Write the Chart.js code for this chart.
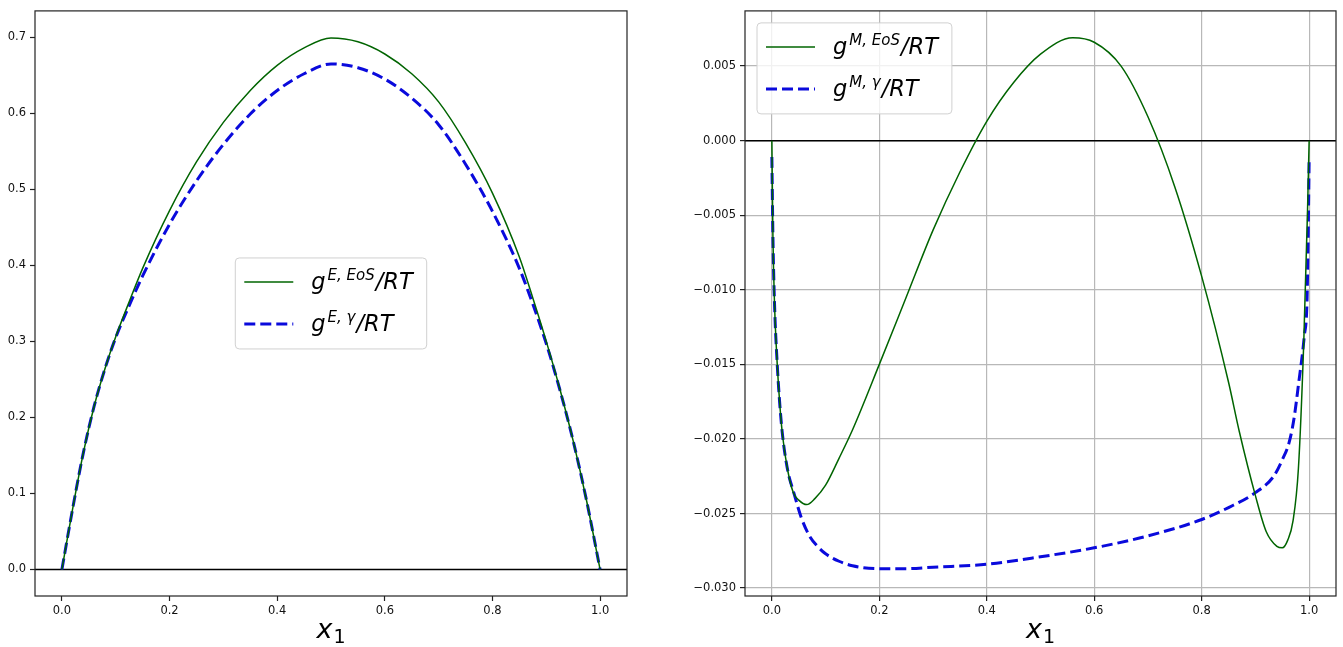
<!DOCTYPE html>
<html>
<head>
<meta charset="utf-8">
<script src="https://cdn.jsdelivr.net/npm/chart.js@4.4.1/dist/chart.umd.min.js"></script>
<style>
  html, body { margin: 0; padding: 0; background: #fff; }
  #wrap { position: relative; width: 1343px; height: 647px; }
  .box { position: absolute; top: 0; width: 671px; height: 647px; }
  #leftBox { left: 0; }
  #rightBox { left: 672px; }
</style>
</head>
<body>
<div id="wrap">
  <div class="box" id="leftBox"><canvas id="excessChart" width="671" height="647"></canvas></div>
  <div class="box" id="rightBox"><canvas id="mixingChart" width="671" height="647"></canvas></div>
</div>
<script>
// excess gibbs energy, left panel
let xExcess = [0, 0.02, 0.04, 0.06, 0.08, 0.10, 0.125, 0.15, 0.20, 0.25, 0.30, 0.35, 0.40, 0.45, 0.50,
               0.55, 0.60, 0.65, 0.70, 0.75, 0.80, 0.85, 0.875, 0.90, 0.925, 0.95, 0.975, 1.0];
let gExcessEos = [0, 0.080, 0.154, 0.215, 0.264, 0.306, 0.352, 0.396, 0.472, 0.536, 0.588, 0.630, 0.663, 0.686, 0.699,
                  0.694, 0.678, 0.652, 0.615, 0.561, 0.495, 0.411, 0.357, 0.300, 0.238, 0.169, 0.090, 0];
let gExcessGamma = [0, 0.080, 0.154, 0.215, 0.264, 0.305, 0.347, 0.386, 0.454, 0.511, 0.559, 0.599, 0.630, 0.652, 0.665,
                    0.660, 0.645, 0.620, 0.585, 0.533, 0.471, 0.396, 0.349, 0.297, 0.237, 0.169, 0.090, 0];

// gibbs energy of mixing, right panel
let xMixEos = [0, 0.002, 0.005, 0.01, 0.015, 0.02, 0.03, 0.04, 0.05, 0.065, 0.08, 0.10, 0.125, 0.15, 0.20, 0.25,
               0.30, 0.35, 0.40, 0.45, 0.50, 0.56, 0.60, 0.65, 0.70, 0.75, 0.80, 0.85, 0.87, 0.90, 0.92, 0.94,
               0.95, 0.96, 0.97, 0.98, 0.99, 0.997, 1.0];
let gMixEos = [0, -0.0065, -0.0110, -0.0150, -0.0178, -0.0198, -0.0222, -0.0236, -0.0241, -0.0244, -0.0240, -0.0231,
               -0.0213, -0.0194, -0.0150, -0.0105, -0.0060, -0.0021, 0.0013, 0.0039, 0.0058, 0.0069, 0.0066, 0.0050,
               0.0016, -0.0031, -0.0091, -0.0162, -0.0195, -0.0238, -0.0262, -0.0272, -0.0273, -0.0268, -0.0255,
               -0.0220, -0.0135, -0.0047, 0];
let xMixGamma = [0, 0.002, 0.005, 0.01, 0.015, 0.02, 0.03, 0.04, 0.055, 0.07, 0.085, 0.10, 0.125, 0.15, 0.20, 0.25,
                 0.30, 0.40, 0.50, 0.60, 0.70, 0.80, 0.85, 0.90, 0.934, 0.95, 0.963, 0.972, 0.98, 0.991, 0.996,
                 0.998, 1.0];
let gMixGamma = [-0.0011, -0.0065, -0.0110, -0.0150, -0.0178, -0.0198, -0.0222, -0.0235, -0.0253, -0.0265, -0.0272,
                 -0.0277, -0.0282, -0.0285, -0.0287, -0.0287, -0.0286, -0.0284, -0.0279, -0.0273, -0.0265, -0.0254,
                 -0.0246, -0.0236, -0.0225, -0.0214, -0.0202, -0.0186, -0.0164, -0.0131, -0.0108, -0.0069, -0.0012];

let xTicksStep = 0.2;
let leftYStep = 0.1;
let rightYStep = 0.005;

const FONT = '"DejaVu Sans", "Liberation Sans", sans-serif';
const GREEN = '#006400';
const BLUE = '#0a0adc';
const BLUE_DASH = [11, 5];

function toPoints(xs, ys) {
    return xs.map((x, i) => ({ x: x, y: ys[i] }));
}

// draws g^{sup}/RT with a raised superscript
function drawMathLabel(ctx, x, base, sup) {
    ctx.fillStyle = '#000';
    ctx.textAlign = 'left';
    ctx.textBaseline = 'alphabetic';
    ctx.font = 'italic 22.5px ' + FONT;
    ctx.fillText('g', x, base);
    x += ctx.measureText('g').width + 2;
    ctx.font = 'italic 15px ' + FONT;
    ctx.fillText(sup, x, base - 9);
    x += ctx.measureText(sup).width + 1;
    ctx.font = 'italic 22.5px ' + FONT;
    ctx.fillText('/RT', x, base);
}

function labelWidth(ctx, sup) {
    ctx.font = 'italic 22.5px ' + FONT;
    let w = ctx.measureText('g').width + 2 + ctx.measureText('/RT').width + 1;
    ctx.font = 'italic 15px ' + FONT;
    return w + ctx.measureText(sup).width;
}

function roundRect(ctx, x, y, w, h, r) {
    ctx.beginPath();
    ctx.moveTo(x + r, y);
    ctx.lineTo(x + w - r, y);
    ctx.quadraticCurveTo(x + w, y, x + w, y + r);
    ctx.lineTo(x + w, y + h - r);
    ctx.quadraticCurveTo(x + w, y + h, x + w - r, y + h);
    ctx.lineTo(x + r, y + h);
    ctx.quadraticCurveTo(x, y + h, x, y + h - r);
    ctx.lineTo(x, y + r);
    ctx.quadraticCurveTo(x, y, x + r, y);
    ctx.closePath();
}

// frame, zero line, legend and x label for one panel
function panelDecor(legendSups, legendPlace) {
    return {
        id: 'panelDecor',
        beforeDatasetsDraw(chart) {
            let ctx = chart.ctx;
            let a = chart.chartArea;
            let y0 = chart.scales.y.getPixelForValue(0);
            ctx.save();
            ctx.strokeStyle = '#000';
            ctx.lineWidth = 1.5;
            ctx.beginPath();
            ctx.moveTo(a.left, y0);
            ctx.lineTo(a.right, y0);
            ctx.stroke();
            ctx.restore();
        },
        afterDatasetsDraw(chart) {
            let ctx = chart.ctx;
            let a = chart.chartArea;
            ctx.save();
            ctx.strokeStyle = '#222';
            ctx.lineWidth = 1.2;
            ctx.strokeRect(a.left, a.top, a.right - a.left, a.bottom - a.top);
            ctx.restore();
        },
        afterDraw(chart) {
            let ctx = chart.ctx;
            let a = chart.chartArea;
            ctx.save();

            // legend box
            let textW = Math.max(labelWidth(ctx, legendSups[0]), labelWidth(ctx, legendSups[1]));
            let w = 9 + 49 + 18 + textW + 14;
            let h = 91;
            let bx, by;
            if (legendPlace === 'center') {
                bx = (a.left + a.right) / 2 - w / 2;
                by = (a.top + a.bottom) / 2 - h / 2;
            } else {
                bx = a.left + 12;
                by = a.top + 12;
            }
            roundRect(ctx, bx, by, w, h, 4);
            ctx.fillStyle = 'rgba(255,255,255,0.8)';
            ctx.fill();
            ctx.strokeStyle = '#d0d0d0';
            ctx.lineWidth = 1;
            ctx.stroke();

            let rows = [by + 24, by + 66];
            let styles = [
                { color: GREEN, width: 1.5, dash: [] },
                { color: BLUE, width: 3, dash: BLUE_DASH }
            ];
            for (let i = 0; i < 2; i++) {
                ctx.strokeStyle = styles[i].color;
                ctx.lineWidth = styles[i].width;
                ctx.setLineDash(styles[i].dash);
                ctx.beginPath();
                ctx.moveTo(bx + 9, rows[i]);
                ctx.lineTo(bx + 58, rows[i]);
                ctx.stroke();
                ctx.setLineDash([]);
                drawMathLabel(ctx, bx + 76, rows[i] + 7, legendSups[i]);
            }

            // x axis label: x with subscript 1
            ctx.fillStyle = '#000';
            ctx.textBaseline = 'alphabetic';
            ctx.textAlign = 'left';
            ctx.font = 'italic 27px ' + FONT;
            let wx = ctx.measureText('x').width;
            ctx.font = '19px ' + FONT;
            let w1 = ctx.measureText('1').width;
            let lx = (a.left + a.right) / 2 - (wx + 1 + w1) / 2;
            let base = a.bottom + 42;
            ctx.font = 'italic 27px ' + FONT;
            ctx.fillText('x', lx, base);
            ctx.font = '19px ' + FONT;
            ctx.fillText('1', lx + wx + 1, base + 5);
            ctx.restore();
        }
    };
}

function makeChart(canvasId, datasets, opts) {
    let ctx = document.getElementById(canvasId).getContext('2d');
    let tickFont = { family: FONT, size: 11.5 };
    let gridX = opts.grid
        ? { color: '#b8b8b8', lineWidth: 1.2, tickLength: 5, tickColor: '#222', tickWidth: 1.2 }
        : { drawOnChartArea: false, tickLength: 5, tickColor: '#222', tickWidth: 1.2 };
    return new Chart(ctx, {
        type: 'line',
        data: { datasets: datasets },
        options: {
            responsive: false,
            animation: false,
            devicePixelRatio: 1,
            layout: { padding: { left: 0, top: 7, right: opts.padRight, bottom: 0 } },
            elements: { point: { radius: 0 } },
            plugins: { legend: { display: false }, tooltip: { enabled: false } },
            scales: {
                x: {
                    type: 'linear',
                    min: -0.05,
                    max: 1.05,
                    grid: gridX,
                    border: { display: false },
                    ticks: {
                        stepSize: xTicksStep,
                        includeBounds: false,
                        autoSkip: false,
                        maxRotation: 0,
                        padding: 3,
                        color: '#111',
                        font: tickFont,
                        callback: v => v.toFixed(1)
                    },
                    afterFit(s) { s.height = 51; }
                },
                y: {
                    type: 'linear',
                    min: opts.yMin,
                    max: opts.yMax,
                    grid: gridX,
                    border: { display: false },
                    ticks: {
                        stepSize: opts.yStep,
                        includeBounds: false,
                        autoSkip: false,
                        padding: 4,
                        color: '#111',
                        font: tickFont,
                        callback: v => v.toFixed(opts.decimals).replace('-', '\u2212')
                    },
                    afterFit(s) { s.width = opts.yWidth; }
                }
            }
        },
        plugins: [panelDecor(opts.legendSups, opts.legendPlace)]
    });
}

function lineSet(label, xs, ys, color, width, dash) {
    return {
        label: label,
        data: toPoints(xs, ys),
        borderColor: color,
        borderWidth: width,
        borderDash: dash,
        cubicInterpolationMode: 'monotone',
        fill: false
    };
}

makeChart('excessChart', [
    lineSet('gE,EoS/RT', xExcess, gExcessEos, GREEN, 1.5, []),
    lineSet('gE,gamma/RT', xExcess, gExcessGamma, BLUE, 3, BLUE_DASH)
], {
    yMin: -0.035, yMax: 0.7347, yStep: leftYStep, decimals: 1,
    yWidth: 35, padRight: 44, grid: false,
    legendSups: ['E, EoS', 'E, \u03b3'], legendPlace: 'center'
});

makeChart('mixingChart', [
    lineSet('gM,EoS/RT', xMixEos, gMixEos, GREEN, 1.5, []),
    lineSet('gM,gamma/RT', xMixGamma, gMixGamma, BLUE, 3, BLUE_DASH)
], {
    yMin: -0.03053, yMax: 0.0087, yStep: rightYStep, decimals: 3,
    yWidth: 73, padRight: 7, grid: true,
    legendSups: ['M, EoS', 'M, \u03b3'], legendPlace: 'upper left'
});
</script>
</body>
</html>
